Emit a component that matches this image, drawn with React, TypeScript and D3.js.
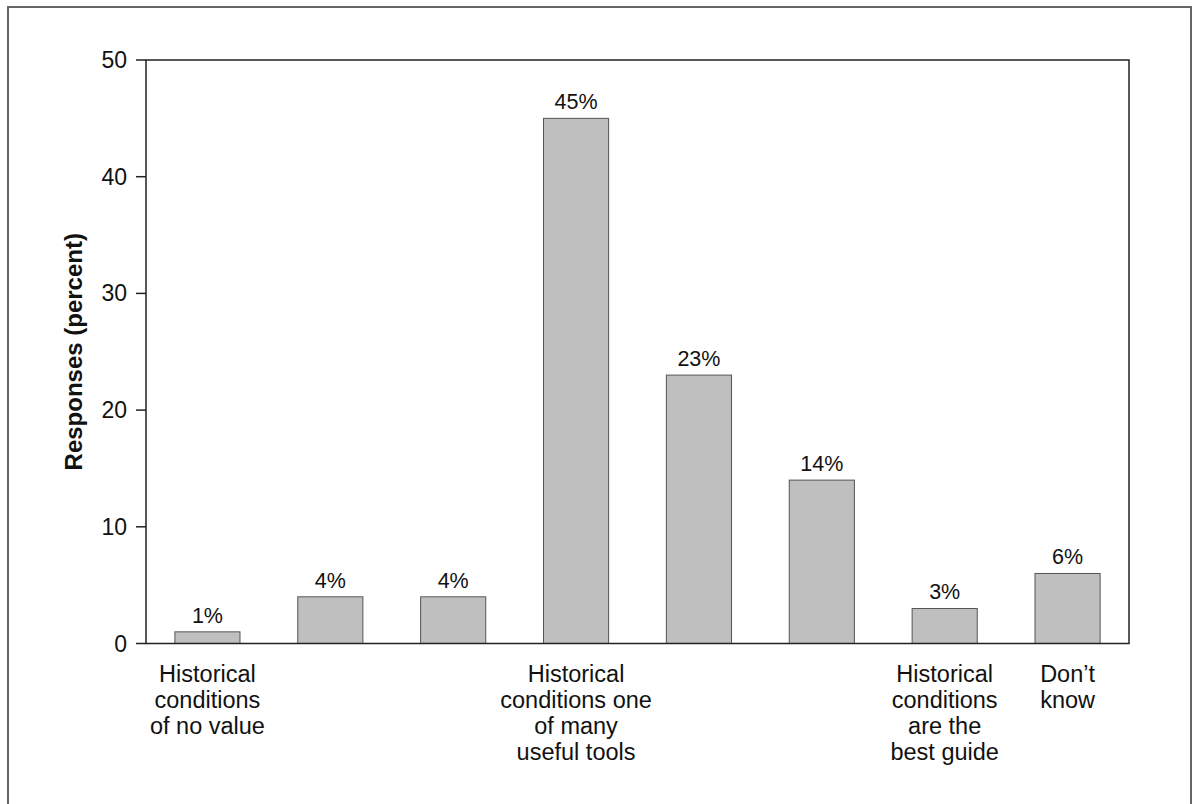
import React from "react";
import * as d3 from "d3";

const categories = ["c1", "c2", "c3", "c4", "c5", "c6", "c7", "c8"];
const values = [1, 4, 4, 45, 23, 14, 3, 6];
const valueLabels = ["1%", "4%", "4%", "45%", "23%", "14%", "3%", "6%"];
const categoryLabels: string[][] = [
  ["Historical", "conditions", "of no value"],
  [],
  [],
  ["Historical", "conditions one", "of many", "useful tools"],
  [],
  [],
  ["Historical", "conditions", "are the", "best guide"],
  ["Don’t", "know"],
];
const yTicks = [0, 10, 20, 30, 40, 50];

export default function App() {
  const W = 1193, H = 804;
  const left = 146, right = 1129, top = 60, bottom = 643.5;
  const x = d3.scaleBand<string>().domain(categories).range([left, right]).paddingInner(0.47).paddingOuter(0.235);
  const y = d3.scaleLinear().domain([0, 50]).range([bottom, top]);
  const font = "'Liberation Sans', Arial, sans-serif";
  return (
    <svg width={W} height={H} style={{ position: "absolute", left: 0, top: 0 }} fontFamily={font}>
      <rect x={0} y={0} width={W} height={H} fill="#fff" />
      <path d={`M8,${H + 5} V7 H1191 V${H + 5}`} fill="none" stroke="#666" strokeWidth={2} />
      {values.map((v, i) => (
        <g key={i}>
          <rect x={x(categories[i])} y={y(v)} width={x.bandwidth()} height={bottom - y(v)} fill="#bfbfbf" stroke="#555" strokeWidth={1} />
          <text x={(x(categories[i]) as number) + x.bandwidth() / 2} y={y(v) - 9} textAnchor="middle" fontSize={21.5} fill="#111">{valueLabels[i]}</text>
          {categoryLabels[i].map((ln, j) => (
            <text key={j} x={(x(categories[i]) as number) + x.bandwidth() / 2} y={682 + j * 26} textAnchor="middle" fontSize={23.5} fill="#111">{ln}</text>
          ))}
        </g>
      ))}
      <rect x={left} y={top} width={right - left} height={bottom - top} fill="none" stroke="#222" strokeWidth={1.5} />
      {yTicks.map((t) => (
        <g key={t}>
          <line x1={left - 10} x2={left} y1={y(t)} y2={y(t)} stroke="#222" strokeWidth={1.5} />
          <text x={left - 19} y={y(t) + 8} textAnchor="end" fontSize={23} fill="#111">{t}</text>
        </g>
      ))}
      <text transform={`translate(82,${(top + bottom) / 2 + 0}) rotate(-90)`} textAnchor="middle" fontSize={24} fontWeight="bold" fill="#111">Responses (percent)</text>
    </svg>
  );
}
